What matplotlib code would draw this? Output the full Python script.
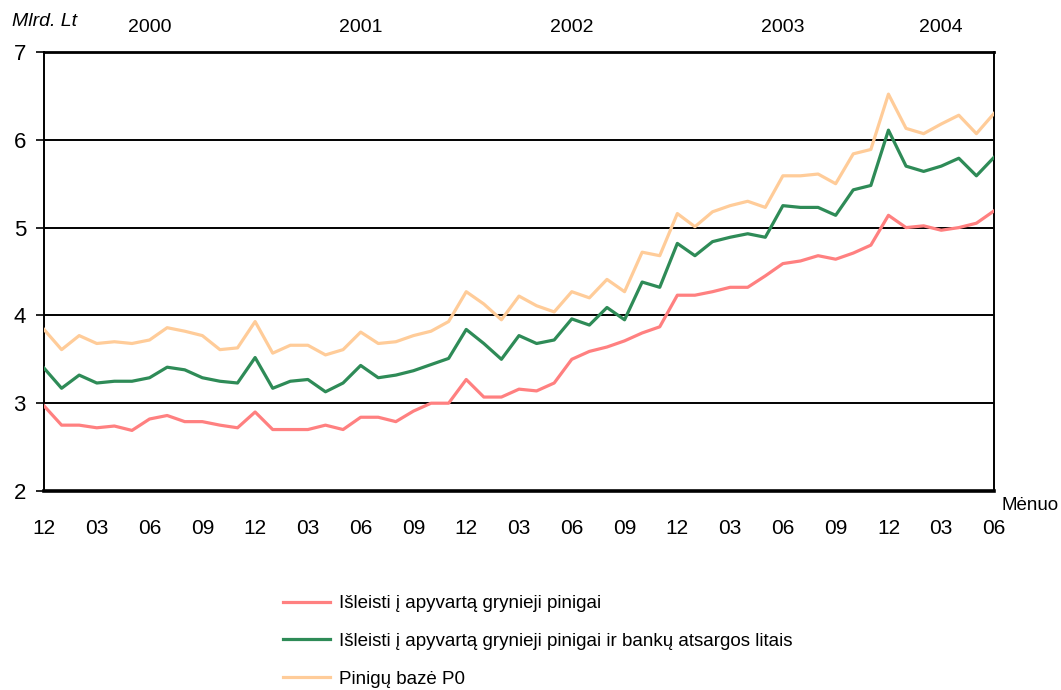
import numpy as np
import matplotlib
matplotlib.use("Agg")
import matplotlib.pyplot as plt
from matplotlib.ticker import FixedLocator

plt.rcParams['font.family'] = ['Liberation Sans', 'DejaVu Sans']

# monthly data, Dec 1999 .. Jun 2004 (Mlrd. Lt)
cash = [2.97, 2.75, 2.75, 2.72, 2.74, 2.69, 2.82, 2.86, 2.79, 2.79, 2.75, 2.72,
        2.90, 2.70, 2.70, 2.70, 2.75, 2.70, 2.84, 2.84, 2.79, 2.91, 3.00, 3.00,
        3.27, 3.07, 3.07, 3.16, 3.14, 3.23, 3.50, 3.59, 3.64, 3.71, 3.80, 3.87,
        4.23, 4.23, 4.27, 4.32, 4.32, 4.45, 4.59, 4.62, 4.68, 4.64, 4.71, 4.80,
        5.14, 5.00, 5.02, 4.97, 5.00, 5.05, 5.19]
cash_reserves = [3.40, 3.17, 3.32, 3.23, 3.25, 3.25, 3.29, 3.41, 3.38, 3.29, 3.25, 3.23,
                 3.52, 3.17, 3.25, 3.27, 3.13, 3.23, 3.43, 3.29, 3.32, 3.37, 3.44, 3.51,
                 3.84, 3.68, 3.50, 3.77, 3.68, 3.72, 3.96, 3.89, 4.09, 3.95, 4.38, 4.32,
                 4.82, 4.68, 4.84, 4.89, 4.93, 4.89, 5.25, 5.23, 5.23, 5.14, 5.43, 5.48,
                 6.11, 5.70, 5.64, 5.70, 5.79, 5.59, 5.80]
base_p0 = [3.84, 3.61, 3.77, 3.68, 3.70, 3.68, 3.72, 3.86, 3.82, 3.77, 3.61, 3.63,
           3.93, 3.57, 3.66, 3.66, 3.55, 3.61, 3.81, 3.68, 3.70, 3.77, 3.82, 3.93,
           4.27, 4.13, 3.95, 4.22, 4.11, 4.04, 4.27, 4.20, 4.41, 4.27, 4.72, 4.68,
           5.16, 5.01, 5.18, 5.25, 5.30, 5.23, 5.59, 5.59, 5.61, 5.50, 5.84, 5.89,
           6.52, 6.13, 6.07, 6.18, 6.28, 6.07, 6.30]

month_labels = ['12', '03', '06', '09'] * 4 + ['12', '03', '06']
years = ['2000', '2001', '2002', '2003', '2004']
year_centers = [6, 18, 30, 42, 51]
dec_idx = [0, 12, 24, 36, 48]

labels = ['Išleisti į apyvartą grynieji pinigai',
          'Išleisti į apyvartą grynieji pinigai ir bankų atsargos litais',
          'Pinigų bazė P0']
colors = ['#FF8080', '#2E8B57', '#FFCC99']

x = np.arange(len(cash))

fig = plt.figure(figsize=(10.61, 6.90), dpi=100)
ax = fig.add_axes([44 / 1061, 1 - 491 / 690, 950 / 1061, 439 / 690])

for series, lab, col in zip([cash, cash_reserves, base_p0], labels, colors):
    ax.plot(x, series, color=col, lw=2.3, label=lab, zorder=3)

ax.set_xlim(0, len(cash) - 1)
ax.set_ylim(2, 7)
ax.set_yticks(range(2, 8))
ax.tick_params(axis='y', labelsize=16, length=6, width=1.2, pad=7, direction='out')

# month labels every 3 months, tick marks + vertical lines at December
ax.set_xticks(np.arange(0, len(cash), 3))
ax.set_xticklabels(month_labels)
ax.xaxis.set_minor_locator(FixedLocator(dec_idx))
ax.tick_params(axis='x', which='major', length=0, labelsize=15, pad=20)
ax.tick_params(axis='x', which='minor', length=7, width=1.5, direction='out')

ax.grid(axis='y', which='major', color='black', lw=1.4)
ax.grid(axis='x', which='minor', color='black', lw=1.4)
ax.set_axisbelow(True)

for side in ['left', 'right', 'top']:
    ax.spines[side].set_linewidth(1.4)
ax.spines['bottom'].set_linewidth(2.6)
ax.spines['top'].set_linewidth(2)

for yr, xc in zip(years, year_centers):
    ax.annotate(yr, xy=(xc, 1), xycoords=('data', 'axes fraction'),
                xytext=(0, 25), textcoords='offset pixels',
                ha='center', va='center', fontsize=14)

fig.text(12 / 1061, 1 - 22 / 690, 'Mlrd. Lt', style='italic', fontsize=14, va='center')
fig.text(1059 / 1061, 1 - 505 / 690, 'Mėnuo', fontsize=13.5, va='center', ha='right')

fig.legend(loc='upper left', bbox_to_anchor=(283 / 1061, 1 - 595 / 690),
           frameon=False, fontsize=13.5, handlelength=2.5, handletextpad=0.5,
           labelspacing=1.1, borderpad=0, borderaxespad=0)

fig.savefig('out.png', dpi=100)
